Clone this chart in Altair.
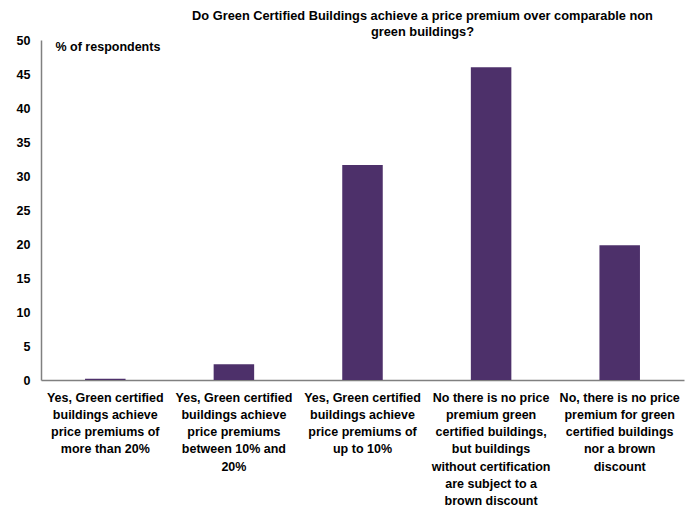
import altair as alt
import pandas as pd

categories = [
    "Yes, Green certified|buildings achieve|price premiums of|more than 20%",
    "Yes, Green certified|buildings achieve|price premiums|between 10% and|20%",
    "Yes, Green certified|buildings achieve|price premiums of|up to 10%",
    "No there is no price|premium green|certified buildings,|but buildings|without certification|are subject to a|brown discount",
    "No, there is no price|premium for green|certified buildings|nor a brown|discount",
]
values = [0.2, 2.3, 31.6, 46.0, 19.8]
y_ticks = [0, 5, 10, 15, 20, 25, 30, 35, 40, 45, 50]
title_lines = [
    "Do Green Certified Buildings achieve a price premium over comparable non",
    "green buildings?",
]

df = pd.DataFrame({"cat": categories, "val": values})

FONT = "Liberation Sans"

chart = alt.Chart(df).mark_bar(color="#4d306a").encode(
    x=alt.X(
        "cat:N",
        sort=categories,
        scale=alt.Scale(paddingInner=0.685, paddingOuter=0.3425),
        axis=alt.Axis(
            title=None,
            labelAngle=0,
            labelExpr="split(datum.label, '|')",
            labelFont=FONT,
            labelFontWeight="bold",
            labelFontSize=12.5,
            labelColor="#000000",
            labelLineHeight=17.3,
            labelPadding=11,
            labelLimit=0,
            labelOverlap=False,
            ticks=False,
            domainColor="#808080",
            domainWidth=1.5,
        ),
    ),
    y=alt.Y(
        "val:Q",
        scale=alt.Scale(domain=[0, 50], nice=False),
        axis=alt.Axis(
            title="% of respondents",
            titleAngle=0,
            titleAlign="left",
            titleBaseline="middle",
            titleX=14,
            titleY=6,
            titleFont=FONT,
            titleFontWeight="bold",
            titleFontSize=12.5,
            titleColor="#000000",
            values=y_ticks,
            labelFont=FONT,
            labelFontWeight="bold",
            labelFontSize=12.5,
            labelColor="#000000",
            labelPadding=11,
            ticks=False,
            grid=False,
            domainColor="#808080",
            domainWidth=1.5,
        ),
    ),
).properties(
    width=643,
    height=340,
    title=alt.TitleParams(
        text=title_lines,
        anchor="middle",
        dx=60,
        offset=-5,
        font=FONT,
        fontWeight="bold",
        fontSize=12.8,
        lineHeight=16,
        color="#000000",
    ),
    autosize=alt.AutoSizeParams(type="none"),
    padding={"left": 33, "top": 32, "right": 4, "bottom": 128},
).configure_view(stroke=None)

chart.save("out.html", embed_options={"renderer": "svg", "actions": False})
